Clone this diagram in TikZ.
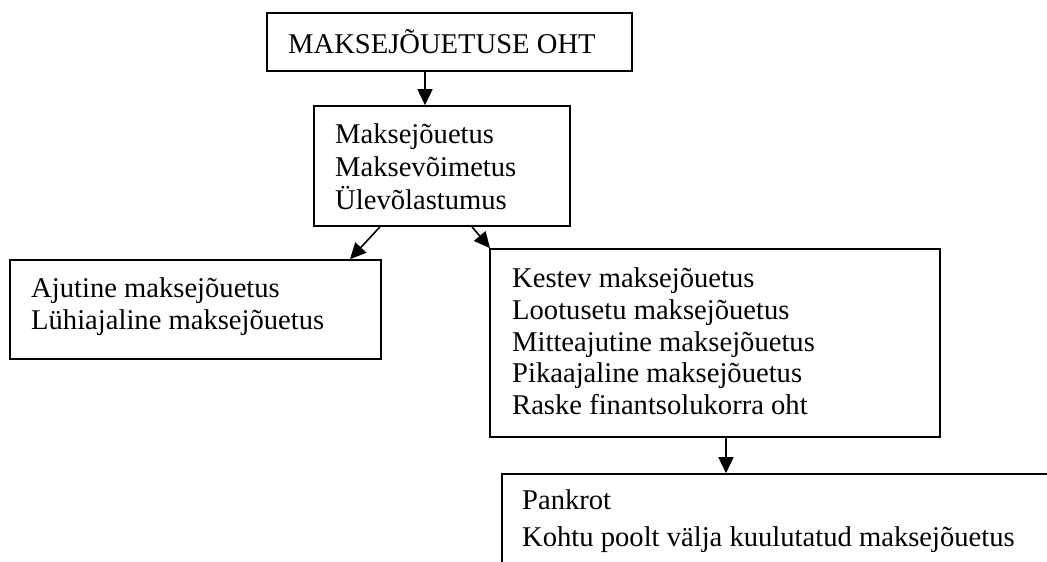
\documentclass[tikz,border=0pt]{standalone}
\usepackage{fontspec}
\setmainfont{Liberation Serif}
\usetikzlibrary{arrows.meta}
\begin{document}
\begin{tikzpicture}[x=1pt,y=-1pt,
  box/.style={draw,line width=1.6pt,inner sep=0pt,rectangle},
  txt/.style={anchor=base west,inner sep=0pt,font=\fontsize{28.6}{32}\selectfont},
  arr/.style={line width=1.6pt,-{Triangle[length=16pt,width=15pt]}}]
\clip (0,0) rectangle (1047,562);
\fill[white] (0,0) rectangle (1047,562);
% boxes
\node[box,minimum width=365pt,minimum height=58pt] (b1) at (449.5,42) {};
\node[box,minimum width=256pt,minimum height=120pt] (b2) at (442,166) {};
\node[box,minimum width=371pt,minimum height=99pt] (bl) at (195.5,309.5) {};
\node[box,minimum width=450pt,minimum height=188pt] (br) at (715,343) {};
\node[box,minimum width=598pt,minimum height=146pt] (bb) at (801,547) {};
% texts
\node[txt] (t1) at (288,53) {MAKSEJÕUETUSE OHT};
\node[txt] (t2a) at (335,143) {Maksejõuetus};
\node[txt] (t2b) at (335,176) {Maksevõimetus};
\node[txt] (t2c) at (335,209) {Ülevõlastumus};
\node[txt] (tla) at (31,297) {Ajutine maksejõuetus};
\node[txt] (tlb) at (31,329) {Lühiajaline maksejõuetus};
\node[txt] (tra) at (512,287) {Kestev maksejõuetus};
\node[txt] (trb) at (512,319) {Lootusetu maksejõuetus};
\node[txt] (trc) at (512,351) {Mitteajutine maksejõuetus};
\node[txt] (trd) at (512,382) {Pikaajaline maksejõuetus};
\node[txt] (tre) at (512,414) {Raske finantsolukorra oht};
\node[txt] (tba) at (522,509) {Pankrot};
\node[txt] (tbb) at (522,546) {Kohtu poolt välja kuulutatud maksejõuetus};
% connector x positions
\coordinate (x1) at (425,0);
\coordinate (x2s) at (380,0);
\coordinate (x2e) at (350,0);
\coordinate (x3s) at (472,0);
\coordinate (x3e) at (490,0);
\coordinate (x4) at (726,0);
% connectors
\draw[arr] (b1.south -| x1) -- (b2.north -| x1);
\draw[arr] (b2.south -| x2s) -- (bl.north -| x2e);
\draw[arr] (b2.south -| x3s) -- (br.north -| x3e);
\draw[arr] (br.south -| x4) -- (bb.north -| x4);
\end{tikzpicture}
\end{document}
